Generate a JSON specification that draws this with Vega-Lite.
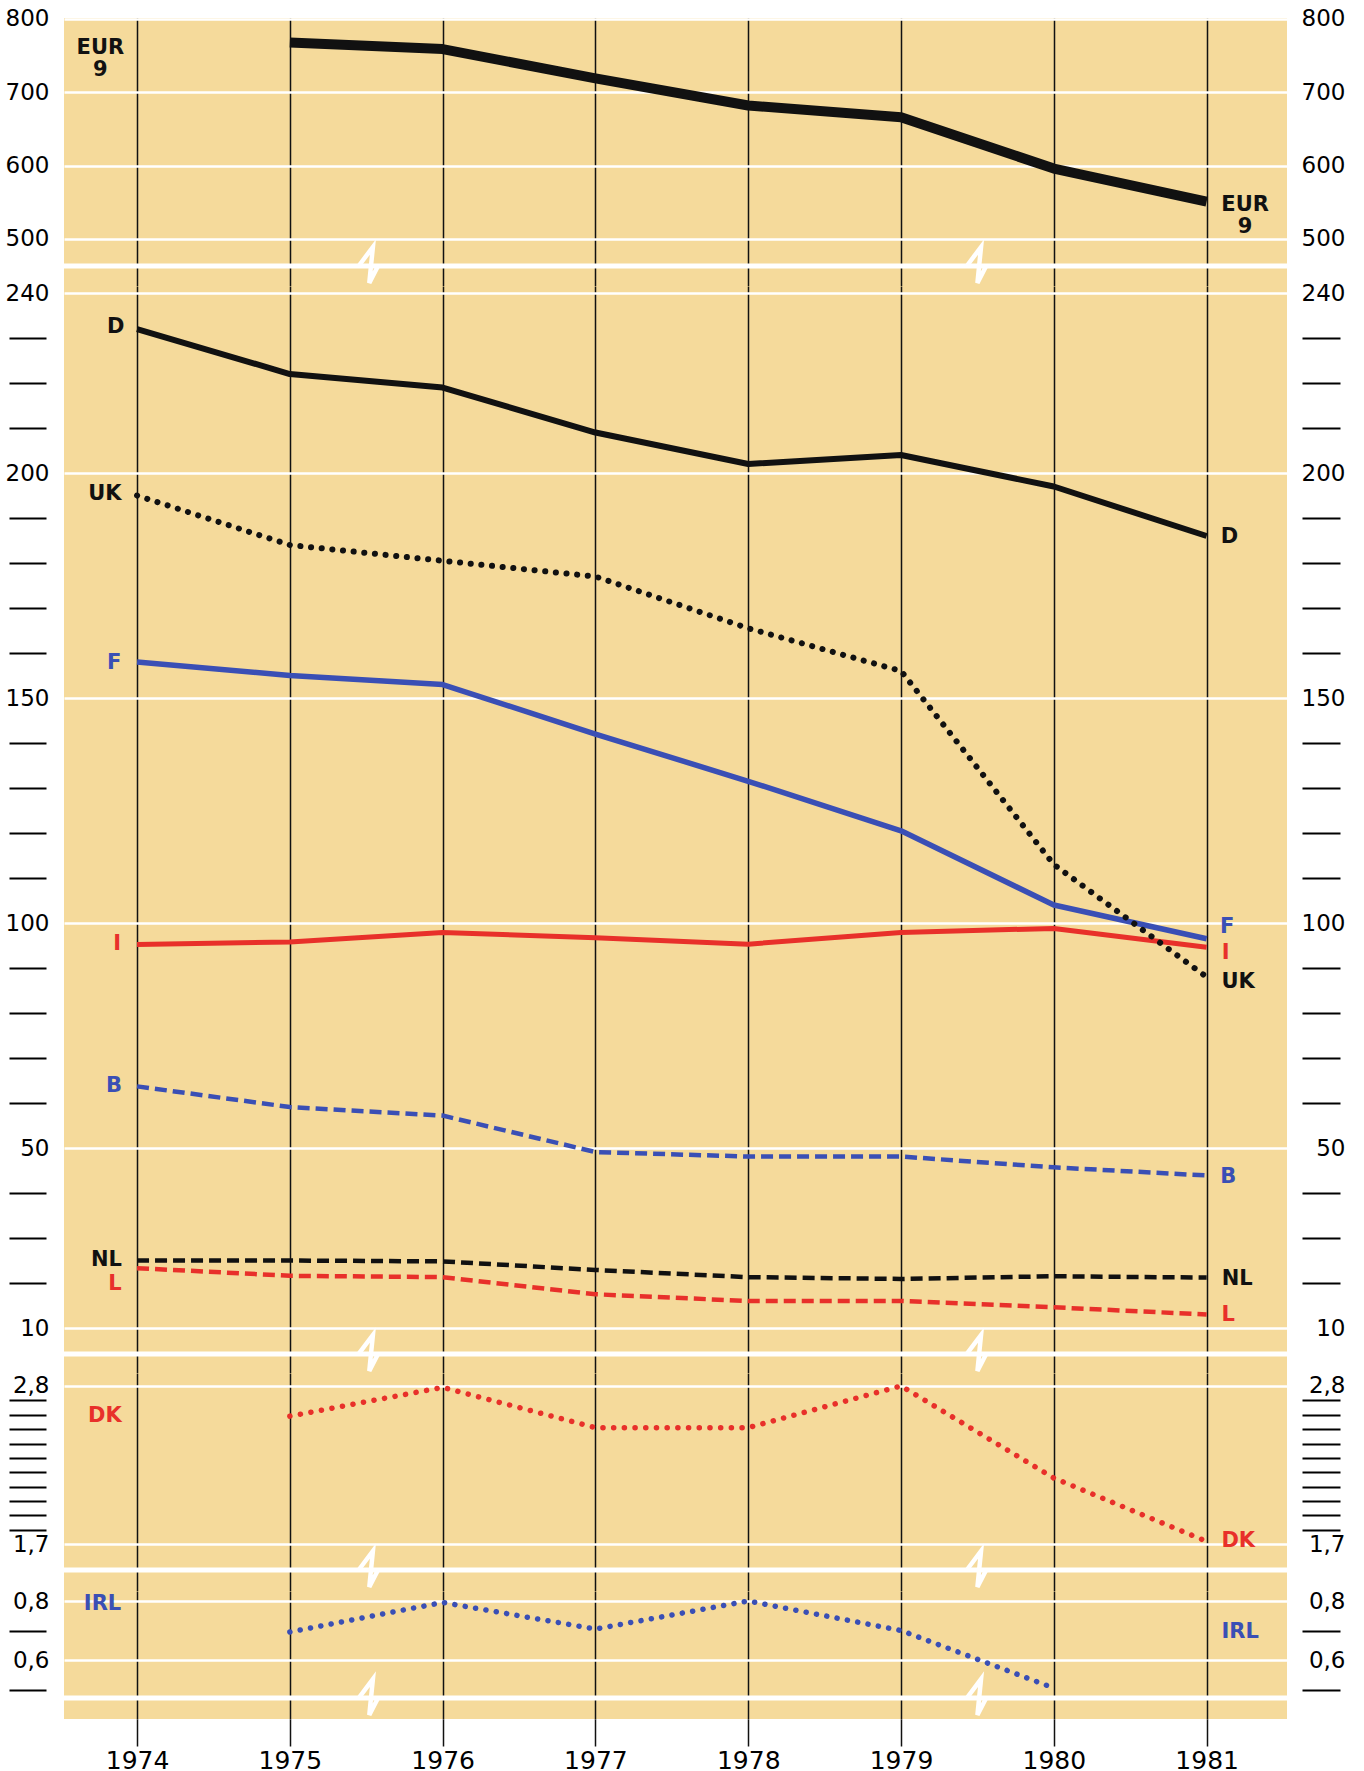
{
  "$schema": "https://vega.github.io/schema/vega-lite/v6.json",
  "padding": {"left": 5, "top": 7, "right": 5, "bottom": 2},
  "background": "white",
  "bounds": "flush",
  "spacing": 0,
  "config": {"view": {"stroke": null, "fill": "#f5da9b"}, "font": "DejaVu Sans"},
  "datasets": {
    "series": [
      {"series": "EUR 9", "year": 1975, "value": 768},
      {"series": "EUR 9", "year": 1976, "value": 759},
      {"series": "EUR 9", "year": 1977, "value": 719},
      {"series": "EUR 9", "year": 1978, "value": 682},
      {"series": "EUR 9", "year": 1979, "value": 666},
      {"series": "EUR 9", "year": 1980, "value": 596},
      {"series": "EUR 9", "year": 1981, "value": 551},
      {"series": "D", "year": 1974, "value": 232},
      {"series": "D", "year": 1975, "value": 222},
      {"series": "D", "year": 1976, "value": 219},
      {"series": "D", "year": 1977, "value": 209},
      {"series": "D", "year": 1978, "value": 202},
      {"series": "D", "year": 1979, "value": 204},
      {"series": "D", "year": 1980, "value": 197},
      {"series": "D", "year": 1981, "value": 186},
      {"series": "UK", "year": 1974, "value": 195},
      {"series": "UK", "year": 1975, "value": 184},
      {"series": "UK", "year": 1976, "value": 180.5},
      {"series": "UK", "year": 1977, "value": 177},
      {"series": "UK", "year": 1978, "value": 165.5},
      {"series": "UK", "year": 1979, "value": 156},
      {"series": "UK", "year": 1980, "value": 113},
      {"series": "UK", "year": 1981, "value": 88},
      {"series": "F", "year": 1974, "value": 158},
      {"series": "F", "year": 1975, "value": 155},
      {"series": "F", "year": 1976, "value": 153},
      {"series": "F", "year": 1977, "value": 142},
      {"series": "F", "year": 1978, "value": 131.5},
      {"series": "F", "year": 1979, "value": 120.5},
      {"series": "F", "year": 1980, "value": 104},
      {"series": "F", "year": 1981, "value": 96.5},
      {"series": "I", "year": 1974, "value": 95.2},
      {"series": "I", "year": 1975, "value": 95.8},
      {"series": "I", "year": 1976, "value": 97.9},
      {"series": "I", "year": 1977, "value": 96.7},
      {"series": "I", "year": 1978, "value": 95.3},
      {"series": "I", "year": 1979, "value": 97.9},
      {"series": "I", "year": 1980, "value": 98.8},
      {"series": "I", "year": 1981, "value": 94.6},
      {"series": "B", "year": 1974, "value": 63.7},
      {"series": "B", "year": 1975, "value": 59.1},
      {"series": "B", "year": 1976, "value": 57.2},
      {"series": "B", "year": 1977, "value": 49.1},
      {"series": "B", "year": 1978, "value": 48.1},
      {"series": "B", "year": 1979, "value": 48.1},
      {"series": "B", "year": 1980, "value": 45.7},
      {"series": "B", "year": 1981, "value": 43.9},
      {"series": "NL", "year": 1974, "value": 25.0},
      {"series": "NL", "year": 1975, "value": 25.0},
      {"series": "NL", "year": 1976, "value": 24.8},
      {"series": "NL", "year": 1977, "value": 22.9},
      {"series": "NL", "year": 1978, "value": 21.3},
      {"series": "NL", "year": 1979, "value": 20.9},
      {"series": "NL", "year": 1980, "value": 21.5},
      {"series": "NL", "year": 1981, "value": 21.2},
      {"series": "L", "year": 1974, "value": 23.3},
      {"series": "L", "year": 1975, "value": 21.6},
      {"series": "L", "year": 1976, "value": 21.3},
      {"series": "L", "year": 1977, "value": 17.5},
      {"series": "L", "year": 1978, "value": 16.0},
      {"series": "L", "year": 1979, "value": 16.0},
      {"series": "L", "year": 1980, "value": 14.6},
      {"series": "L", "year": 1981, "value": 13.0},
      {"series": "DK", "year": 1975, "value": 2.59},
      {"series": "DK", "year": 1976, "value": 2.79},
      {"series": "DK", "year": 1977, "value": 2.51},
      {"series": "DK", "year": 1978, "value": 2.51},
      {"series": "DK", "year": 1979, "value": 2.80},
      {"series": "DK", "year": 1980, "value": 2.16},
      {"series": "DK", "year": 1981, "value": 1.72},
      {"series": "IRL", "year": 1975, "value": 0.695},
      {"series": "IRL", "year": 1976, "value": 0.795},
      {"series": "IRL", "year": 1977, "value": 0.705},
      {"series": "IRL", "year": 1978, "value": 0.80},
      {"series": "IRL", "year": 1979, "value": 0.70},
      {"series": "IRL", "year": 1980, "value": 0.505}
    ],
    "labels": [
      {"series": "EUR 9", "label": "EUR\n9", "year": 1973.76, "value": 761},
      {"series": "EUR 9", "label": "EUR\n9", "year": 1981.252, "value": 547},
      {"series": "D", "label": "D", "year": 1973.86, "value": 232.5},
      {"series": "UK", "label": "UK", "year": 1973.79, "value": 195.3},
      {"series": "F", "label": "F", "year": 1973.85, "value": 157.7},
      {"series": "I", "label": "I", "year": 1973.87, "value": 95.3},
      {"series": "B", "label": "B", "year": 1973.85, "value": 63.8},
      {"series": "NL", "label": "NL", "year": 1973.80, "value": 25.2},
      {"series": "L", "label": "L", "year": 1973.856, "value": 19.8},
      {"series": "D", "label": "D", "year": 1981.149, "value": 185.8},
      {"series": "F", "label": "F", "year": 1981.134, "value": 99.2},
      {"series": "I", "label": "I", "year": 1981.124, "value": 93.3},
      {"series": "UK", "label": "UK", "year": 1981.206, "value": 87.0},
      {"series": "B", "label": "B", "year": 1981.141, "value": 43.6},
      {"series": "NL", "label": "NL", "year": 1981.2, "value": 21.0},
      {"series": "L", "label": "L", "year": 1981.141, "value": 12.9},
      {"series": "DK", "label": "DK", "year": 1973.79, "value": 2.59},
      {"series": "DK", "label": "DK", "year": 1981.207, "value": 1.723},
      {"series": "IRL", "label": "IRL", "year": 1973.774, "value": 0.79},
      {"series": "IRL", "label": "IRL", "year": 1981.22, "value": 0.695}
    ]
  },
  "vconcat": [
    {
      "width": 1223, "height": 268,
      "resolve": {"axis": {"y": "independent"}},
      "layer": [
        {
          "data": {"name": "series"},
          "transform": [{"filter": "datum.series == 'EUR 9'"}],
          "mark": {"type": "line", "color": "#111111", "strokeWidth": 10, "strokeJoin": "round"},
          "encoding": {
            "x": {"field": "year", "type": "quantitative", "scale": {"domain": [1973.522, 1981.526], "nice": false, "zero": false},
                  "axis": {"values": [1974,1975,1976,1977,1978,1979,1980,1981], "grid": true, "gridColor": "#111111", "gridWidth": 1.5, "domain": false, "ticks": false, "labels": false, "title": null}},
            "y": {"field": "value", "type": "quantitative", "scale": {"domain": [435.9, 801.36], "nice": false, "zero": false},
                  "axis": {"orient": "left", "values": [800,700,600,500], "format": "d", "title": null, "domain": false, "offset": 18, "ticks": true, "tickSize": 37, "tickOpacity": 0, "labelPadding": -40, "labelFont": "DejaVu Sans", "labelFontSize": 23, "labelColor": "black", "labelOverlap": false, "grid": true, "gridColor": "white", "gridWidth": 2.5}}
          }
        },
        {
          "data": {"name": "labels"},
          "transform": [{"filter": "datum.series == 'EUR 9'"}],
          "mark": {"type": "text", "font": "DejaVu Sans", "fontSize": 21, "fontWeight": "bold", "align": "center", "baseline": "middle", "lineBreak": "\n", "lineHeight": 22, "color": "#111111"},
          "encoding": {
            "x": {"field": "year", "type": "quantitative"},
            "y": {"field": "value", "type": "quantitative",
                  "axis": {"orient": "right", "values": [800,700,600,500], "format": "d", "title": null, "domain": false, "offset": 15, "ticks": true, "tickSize": 38, "tickOpacity": 0, "labelAlign": "right", "labelPadding": 5, "labelFont": "DejaVu Sans", "labelFontSize": 23, "labelColor": "black", "labelOverlap": false, "grid": false}},
            "text": {"field": "label"}
          }
        },
        {
          "data": {"values": [{}]},
          "mark": {"type": "rule", "color": "white", "strokeWidth": 5},
          "encoding": {"y": {"datum": 463.2, "type": "quantitative", "axis": null}}
        },
        {
          "data": {"values": [{}]},
          "mark": {"type": "point", "shape": "M-0.56,0L0.19,-1L0,0.89L0.46,0", "size": 1444, "filled": false, "stroke": "white", "strokeWidth": 4.5, "opacity": 1},
          "encoding": {"x": {"datum": 1975.52, "type": "quantitative"}, "y": {"datum": 463.2, "type": "quantitative", "axis": null}}
        },
        {
          "data": {"values": [{}]},
          "mark": {"type": "point", "shape": "M-0.56,0L0.19,-1L0,0.89L0.46,0", "size": 1444, "filled": false, "stroke": "white", "strokeWidth": 4.5, "opacity": 1},
          "encoding": {"x": {"datum": 1979.5, "type": "quantitative"}, "y": {"datum": 463.2, "type": "quantitative", "axis": null}}
        }
      ]
    },
    {
      "width": 1223, "height": 1087,
      "resolve": {"axis": {"y": "independent"}},
      "layer": [
        {
          "data": {"name": "series"},
          "transform": [{"filter": "datum.series == 'D' || datum.series == 'F' || datum.series == 'I'"}],
          "mark": {"type": "line", "strokeJoin": "round"},
          "encoding": {
            "x": {"field": "year", "type": "quantitative", "scale": {"domain": [1973.522, 1981.526], "nice": false, "zero": false},
                  "axis": {"values": [1974,1975,1976,1977,1978,1979,1980,1981], "grid": true, "gridColor": "#111111", "gridWidth": 1.5, "domain": false, "ticks": false, "labels": false, "title": null}},
            "y": {"field": "value", "type": "quantitative", "scale": {"domain": [0, 241.56], "nice": false, "zero": false},
                  "axis": {"orient": "left", "values": [240,230,220,210,200,190,180,170,160,150,140,130,120,110,100,90,80,70,60,50,40,30,20,10], "format": "d",
                           "labelExpr": "indexof([240,200,150,100,50,10], datum.value) >= 0 ? datum.label : ''",
                           "title": null, "domain": false, "offset": 18, "ticks": true, "tickSize": 37, "tickWidth": 2, "tickColor": "black",
                           "tickOpacity": {"condition": {"test": "indexof([240,200,150,100,50,10], datum.value) >= 0", "value": 0}, "value": 1},
                           "labelPadding": -40, "labelFont": "DejaVu Sans", "labelFontSize": 23, "labelColor": "black", "labelOverlap": false,
                           "grid": true, "gridColor": "white", "gridWidth": 2.5,
                           "gridOpacity": {"condition": {"test": "indexof([240,200,150,100,50,10], datum.value) >= 0", "value": 1}, "value": 0}}},
            "color": {"field": "series", "type": "nominal", "legend": null,
                      "scale": {"domain": ["EUR 9","D","UK","F","I","B","NL","L","DK","IRL"], "range": ["#111111","#111111","#111111","#3a4fb5","#e8302a","#3a4fb5","#111111","#e8302a","#e8302a","#3a4fb5"]}},
            "strokeWidth": {"field": "series", "type": "nominal", "legend": null, "scale": {"domain": ["D","F","I"], "range": [6,5,6]}}
          }
        },
        {
          "data": {"name": "series"},
          "transform": [{"filter": "datum.series == 'B' || datum.series == 'NL' || datum.series == 'L'"}],
          "mark": {"type": "line", "strokeWidth": 4.5, "strokeDash": [12, 6], "strokeCap": "butt"},
          "encoding": {
            "x": {"field": "year", "type": "quantitative"},
            "y": {"field": "value", "type": "quantitative", "axis": null},
            "color": {"field": "series", "type": "nominal", "legend": null,
                      "scale": {"domain": ["EUR 9","D","UK","F","I","B","NL","L","DK","IRL"], "range": ["#111111","#111111","#111111","#3a4fb5","#e8302a","#3a4fb5","#111111","#e8302a","#e8302a","#3a4fb5"]}}
          }
        },
        {
          "data": {"name": "series"},
          "transform": [{"filter": "datum.series == 'UK'"}],
          "mark": {"type": "line", "strokeWidth": 6, "strokeDash": [0.1, 10.6], "strokeCap": "round", "color": "#111111"},
          "encoding": {
            "x": {"field": "year", "type": "quantitative"},
            "y": {"field": "value", "type": "quantitative", "axis": null}
          }
        },
        {
          "data": {"name": "labels"},
          "transform": [{"filter": "indexof(['D','UK','F','I','B','NL','L'], datum.series) >= 0"}],
          "mark": {"type": "text", "font": "DejaVu Sans", "fontSize": 21, "fontWeight": "bold", "align": "center", "baseline": "middle"},
          "encoding": {
            "x": {"field": "year", "type": "quantitative"},
            "y": {"field": "value", "type": "quantitative",
                  "axis": {"orient": "right", "values": [240,230,220,210,200,190,180,170,160,150,140,130,120,110,100,90,80,70,60,50,40,30,20,10], "format": "d",
                           "labelExpr": "indexof([240,200,150,100,50,10], datum.value) >= 0 ? datum.label : ''",
                           "title": null, "domain": false, "offset": 15, "ticks": true, "tickSize": 38, "tickWidth": 2, "tickColor": "black",
                           "tickOpacity": {"condition": {"test": "indexof([240,200,150,100,50,10], datum.value) >= 0", "value": 0}, "value": 1},
                           "labelAlign": "right", "labelPadding": 5, "labelFont": "DejaVu Sans", "labelFontSize": 23, "labelColor": "black", "labelOverlap": false, "grid": false}},
            "text": {"field": "label"},
            "color": {"field": "series", "type": "nominal", "legend": null,
                      "scale": {"domain": ["EUR 9","D","UK","F","I","B","NL","L","DK","IRL"], "range": ["#111111","#111111","#111111","#3a4fb5","#e8302a","#3a4fb5","#111111","#e8302a","#e8302a","#3a4fb5"]}}
          }
        },
        {
          "data": {"values": [{}]},
          "mark": {"type": "rule", "color": "white", "strokeWidth": 5},
          "encoding": {"y": {"datum": 4.23, "type": "quantitative", "axis": null}}
        },
        {
          "data": {"values": [{}]},
          "mark": {"type": "point", "shape": "M-0.56,0L0.19,-1L0,0.89L0.46,0", "size": 1444, "filled": false, "stroke": "white", "strokeWidth": 4.5, "opacity": 1},
          "encoding": {"x": {"datum": 1975.52, "type": "quantitative"}, "y": {"datum": 4.23, "type": "quantitative", "axis": null}}
        },
        {
          "data": {"values": [{}]},
          "mark": {"type": "point", "shape": "M-0.56,0L0.19,-1L0,0.89L0.46,0", "size": 1444, "filled": false, "stroke": "white", "strokeWidth": 4.5, "opacity": 1},
          "encoding": {"x": {"datum": 1979.5, "type": "quantitative"}, "y": {"datum": 4.23, "type": "quantitative", "axis": null}}
        }
      ]
    },
    {
      "width": 1223, "height": 218,
      "resolve": {"axis": {"y": "independent"}},
      "layer": [
        {
          "data": {"name": "series"},
          "transform": [{"filter": "datum.series == 'DK'"}],
          "mark": {"type": "line", "strokeWidth": 5.5, "strokeDash": [0.1, 10.6], "strokeCap": "round", "color": "#e8302a"},
          "encoding": {
            "x": {"field": "year", "type": "quantitative", "scale": {"domain": [1973.522, 1981.526], "nice": false, "zero": false},
                  "axis": {"values": [1974,1975,1976,1977,1978,1979,1980,1981], "grid": true, "gridColor": "#111111", "gridWidth": 1.5, "domain": false, "ticks": false, "labels": false, "title": null}},
            "y": {"field": "value", "type": "quantitative", "scale": {"domain": [1.375, 2.89], "nice": false, "zero": false},
                  "axis": {"orient": "left", "values": [2.8,2.7,2.6,2.5,2.4,2.3,2.2,2.1,2.0,1.9,1.8,1.7],
                           "labelExpr": "(datum.value == 2.8 || datum.value == 1.7) ? replace(format(datum.value, '.1f'), '.', ',') : ''",
                           "title": null, "domain": false, "offset": 18, "ticks": true, "tickSize": 37, "tickWidth": 2, "tickColor": "black",
                           "tickOpacity": {"condition": {"test": "datum.value == 2.8 || datum.value == 1.7", "value": 0}, "value": 1},
                           "labelPadding": -40, "labelFont": "DejaVu Sans", "labelFontSize": 23, "labelColor": "black", "labelOverlap": false,
                           "grid": true, "gridColor": "white", "gridWidth": 2.5,
                           "gridOpacity": {"condition": {"test": "datum.value == 2.8 || datum.value == 1.7", "value": 1}, "value": 0}}}
          }
        },
        {
          "data": {"name": "labels"},
          "transform": [{"filter": "datum.series == 'DK'"}],
          "mark": {"type": "text", "font": "DejaVu Sans", "fontSize": 21, "fontWeight": "bold", "align": "center", "baseline": "middle", "color": "#e8302a"},
          "encoding": {
            "x": {"field": "year", "type": "quantitative"},
            "y": {"field": "value", "type": "quantitative",
                  "axis": {"orient": "right", "values": [2.8,2.7,2.6,2.5,2.4,2.3,2.2,2.1,2.0,1.9,1.8,1.7],
                           "labelExpr": "(datum.value == 2.8 || datum.value == 1.7) ? replace(format(datum.value, '.1f'), '.', ',') : ''",
                           "title": null, "domain": false, "offset": 15, "ticks": true, "tickSize": 38, "tickWidth": 2, "tickColor": "black",
                           "tickOpacity": {"condition": {"test": "datum.value == 2.8 || datum.value == 1.7", "value": 0}, "value": 1},
                           "labelAlign": "right", "labelPadding": 5, "labelFont": "DejaVu Sans", "labelFontSize": 23, "labelColor": "black", "labelOverlap": false, "grid": false}},
            "text": {"field": "label"}
          }
        },
        {
          "data": {"values": [{}]},
          "mark": {"type": "rule", "color": "white", "strokeWidth": 5},
          "encoding": {"y": {"datum": 1.521, "type": "quantitative", "axis": null}}
        },
        {
          "data": {"values": [{}]},
          "mark": {"type": "point", "shape": "M-0.56,0L0.19,-1L0,0.89L0.46,0", "size": 1444, "filled": false, "stroke": "white", "strokeWidth": 4.5, "opacity": 1},
          "encoding": {"x": {"datum": 1975.52, "type": "quantitative"}, "y": {"datum": 1.521, "type": "quantitative", "axis": null}}
        },
        {
          "data": {"values": [{}]},
          "mark": {"type": "point", "shape": "M-0.56,0L0.19,-1L0,0.89L0.46,0", "size": 1444, "filled": false, "stroke": "white", "strokeWidth": 4.5, "opacity": 1},
          "encoding": {"x": {"datum": 1979.5, "type": "quantitative"}, "y": {"datum": 1.521, "type": "quantitative", "axis": null}}
        }
      ]
    },
    {
      "width": 1223, "height": 128,
      "resolve": {"axis": {"y": "independent"}},
      "layer": [
        {
          "data": {"name": "series"},
          "transform": [{"filter": "datum.series == 'IRL'"}],
          "mark": {"type": "line", "strokeWidth": 5.5, "strokeDash": [0.1, 10.4], "strokeCap": "round", "color": "#3a4fb5"},
          "encoding": {
            "x": {"field": "year", "type": "quantitative", "scale": {"domain": [1973.522, 1981.526], "nice": false, "zero": false},
                  "axis": {"values": [1974,1975,1976,1977,1978,1979,1980,1981], "format": "d", "grid": true, "gridColor": "#111111", "gridWidth": 1.5, "domain": false,
                           "ticks": true, "tickSize": 27, "tickColor": "#111111", "tickWidth": 1.5,
                           "labels": true, "labelFont": "DejaVu Sans", "labelFontSize": 25, "labelColor": "black", "labelPadding": 2, "labelFlush": false, "labelOverlap": false, "title": null}},
            "y": {"field": "value", "type": "quantitative", "scale": {"domain": [0.4, 0.8339], "nice": false, "zero": false},
                  "axis": {"orient": "left", "values": [0.8,0.7,0.6,0.5],
                           "labelExpr": "(datum.value == 0.8 || datum.value == 0.6) ? replace(format(datum.value, '.1f'), '.', ',') : ''",
                           "title": null, "domain": false, "offset": 18, "ticks": true, "tickSize": 37, "tickWidth": 2, "tickColor": "black",
                           "tickOpacity": {"condition": {"test": "datum.value == 0.8 || datum.value == 0.6", "value": 0}, "value": 1},
                           "labelPadding": -40, "labelFont": "DejaVu Sans", "labelFontSize": 23, "labelColor": "black", "labelOverlap": false,
                           "grid": true, "gridColor": "white", "gridWidth": 2.5,
                           "gridOpacity": {"condition": {"test": "datum.value == 0.8 || datum.value == 0.6", "value": 1}, "value": 0}}}
          }
        },
        {
          "data": {"name": "labels"},
          "transform": [{"filter": "datum.series == 'IRL'"}],
          "mark": {"type": "text", "font": "DejaVu Sans", "fontSize": 21, "fontWeight": "bold", "align": "center", "baseline": "middle", "color": "#3a4fb5"},
          "encoding": {
            "x": {"field": "year", "type": "quantitative"},
            "y": {"field": "value", "type": "quantitative",
                  "axis": {"orient": "right", "values": [0.8,0.7,0.6,0.5],
                           "labelExpr": "(datum.value == 0.8 || datum.value == 0.6) ? replace(format(datum.value, '.1f'), '.', ',') : ''",
                           "title": null, "domain": false, "offset": 15, "ticks": true, "tickSize": 38, "tickWidth": 2, "tickColor": "black",
                           "tickOpacity": {"condition": {"test": "datum.value == 0.8 || datum.value == 0.6", "value": 0}, "value": 1},
                           "labelAlign": "right", "labelPadding": 5, "labelFont": "DejaVu Sans", "labelFontSize": 23, "labelColor": "black", "labelOverlap": false, "grid": false}},
            "text": {"field": "label"}
          }
        },
        {
          "data": {"values": [{}]},
          "mark": {"type": "rule", "color": "white", "strokeWidth": 5},
          "encoding": {"y": {"datum": 0.471, "type": "quantitative", "axis": null}}
        },
        {
          "data": {"values": [{}]},
          "mark": {"type": "point", "shape": "M-0.56,0L0.19,-1L0,0.89L0.46,0", "size": 1444, "filled": false, "stroke": "white", "strokeWidth": 4.5, "opacity": 1},
          "encoding": {"x": {"datum": 1975.52, "type": "quantitative"}, "y": {"datum": 0.471, "type": "quantitative", "axis": null}}
        },
        {
          "data": {"values": [{}]},
          "mark": {"type": "point", "shape": "M-0.56,0L0.19,-1L0,0.89L0.46,0", "size": 1444, "filled": false, "stroke": "white", "strokeWidth": 4.5, "opacity": 1},
          "encoding": {"x": {"datum": 1979.5, "type": "quantitative"}, "y": {"datum": 0.471, "type": "quantitative", "axis": null}}
        }
      ]
    }
  ]
}
